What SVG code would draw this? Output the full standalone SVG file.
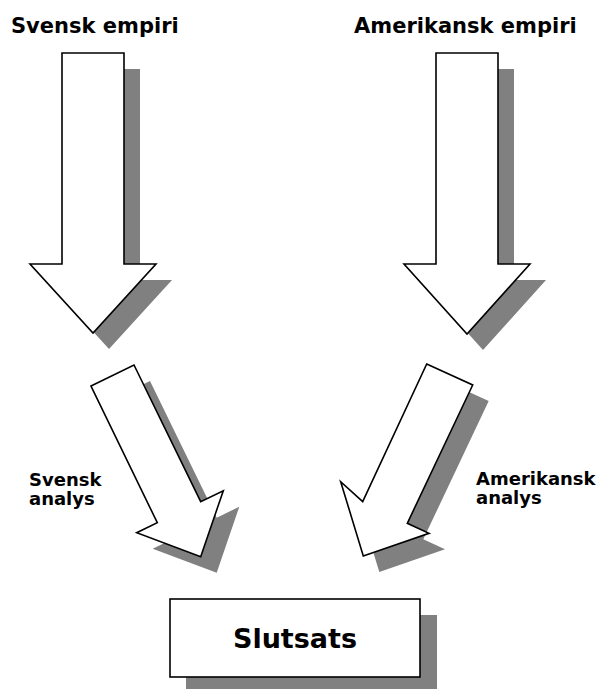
<svg xmlns="http://www.w3.org/2000/svg" width="602" height="689" viewBox="0 0 602 689">
<style>
.shadow{fill:#808080;stroke:none}
.shape{fill:#ffffff;stroke:#000000;stroke-width:1.6;stroke-linejoin:miter}
.t{font-family:"DejaVu Sans","Verdana",sans-serif;font-weight:bold;fill:#000000}
</style>
<rect width="602" height="689" fill="#ffffff"/>
<text class="t" x="11" y="33" font-size="21">Svensk empiri</text>
<text class="t" x="354" y="33" font-size="21">Amerikansk empiri</text>
<g id="connectors">
<g id="arrow-svensk-empiri">
<polygon class="shadow" points="78,69 140,69 140,280 172,280 109,349 46,280 78,280"/>
<polygon class="shape" points="62,53 124,53 124,264 156,264 93,333 30,264 62,264"/>
</g>
<g id="arrow-amerikansk-empiri">
<polygon class="shadow" points="452,69 514,69 514,280 546,280 483,350 420,280 452,280"/>
<polygon class="shape" points="436,53 498,53 498,264 530,264 467,334 404,264 436,264"/>
</g>
<g id="arrow-svensk-analys">
<polygon class="shadow" points="107,402 150,381 216.7,517.7 239.3,506.7 216.7,572.7 152.7,548.7 173.3,538.7"/>
<polygon class="shape" points="91,386 134,365 200.7,501.7 223.3,490.7 200.7,556.7 136.7,532.7 157.3,522.7"/>
</g>
<g id="arrow-amerikansk-analys">
<polygon class="shadow" points="442.7,380 488.7,401 423.3,539.3 445,549.3 379.3,572 356.7,497.7 378.7,517.7"/>
<polygon class="shape" points="426.7,364 472.7,385 407.3,523.3 429,533.3 363.3,556 340.7,481.7 362.7,501.7"/>
</g>
</g>
<g id="label-svensk-analys">
<text class="t" x="29" y="486" font-size="18">Svensk</text>
<text class="t" x="29" y="505" font-size="18">analys</text>
</g>
<g id="label-amerikansk-analys">
<text class="t" x="476" y="485" font-size="18">Amerikansk</text>
<text class="t" x="476" y="504" font-size="18">analys</text>
</g>
<g id="slutsats">
<rect class="shadow" x="186" y="615" width="251" height="78"/>
<rect class="shape" x="170" y="599" width="250" height="78"/>
<text class="t" x="295" y="648" font-size="27" text-anchor="middle">Slutsats</text>
</g>
</svg>
